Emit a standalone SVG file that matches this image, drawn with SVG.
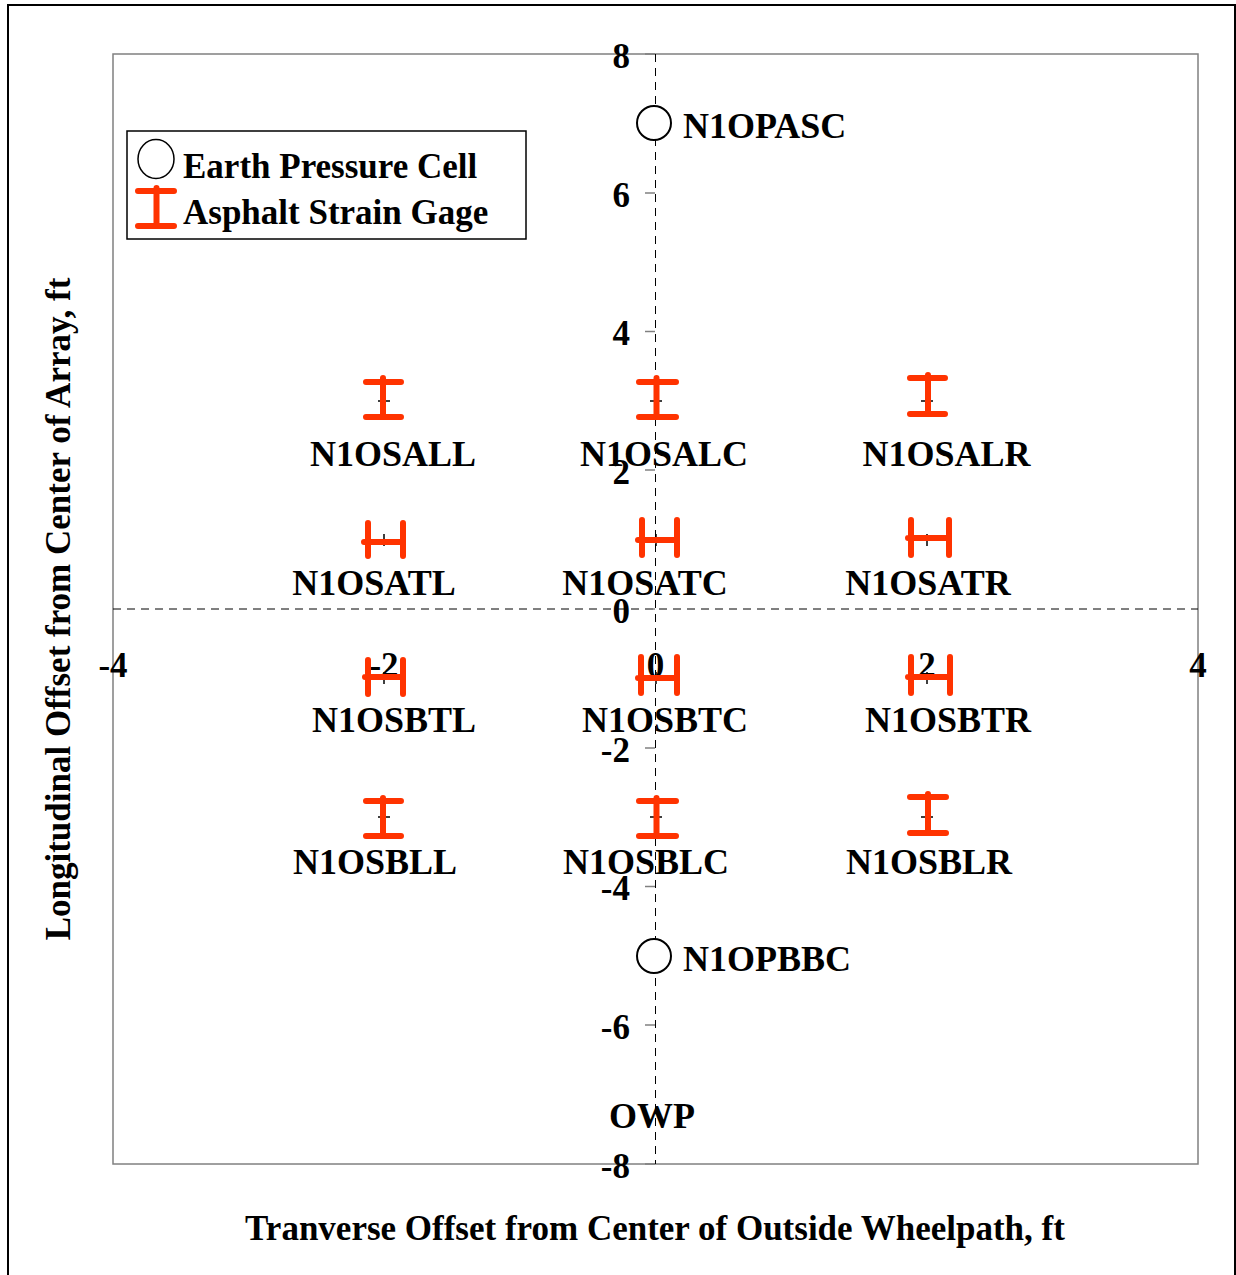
<svg xmlns="http://www.w3.org/2000/svg" width="1236" height="1275" viewBox="0 0 1236 1275">
<style>
text{font-family:"Liberation Serif","Times New Roman",serif;font-weight:bold;font-size:35px;fill:#000}
.lbl{text-anchor:middle}
.nl{font-size:36px}
.ytk{text-anchor:end}
.xtk{text-anchor:middle}
.gage{stroke:#ff3300;stroke-width:6;stroke-linecap:round;fill:none}
.cell{fill:#fff;stroke:#000;stroke-width:2}
.mk{stroke:#000;stroke-width:1.5}
.tick{stroke:#808080;stroke-width:1.5}
.dash{stroke:#000;stroke-width:1;stroke-dasharray:8,6;fill:none}
</style>
<rect x="0" y="0" width="1236" height="1275" fill="#fff"/>
<rect x="8" y="5" width="1227" height="1280" fill="none" stroke="#000" stroke-width="2"/>
<rect x="113" y="54" width="1085" height="1110" fill="none" stroke="#808080" stroke-width="1.5"/>
<g id="axes">
<line class="dash" x1="655.5" y1="54" x2="655.5" y2="1164"/>
<line class="dash" x1="113" y1="609" x2="1198" y2="609"/>
<g class="tick">
<line x1="645" y1="54" x2="655" y2="54"/>
<line x1="645" y1="193" x2="655" y2="193"/>
<line x1="645" y1="331.5" x2="655" y2="331.5"/>
<line x1="645" y1="470" x2="655" y2="470"/>
<line x1="645" y1="609" x2="655" y2="609"/>
<line x1="645" y1="748" x2="655" y2="748"/>
<line x1="645" y1="886.5" x2="655" y2="886.5"/>
<line x1="645" y1="1025" x2="655" y2="1025"/>
<line x1="645" y1="1164" x2="655" y2="1164"/>
</g>
<text class="ytk" x="630" y="68">8</text>
<text class="ytk" x="630" y="207">6</text>
<text class="ytk" x="630" y="345">4</text>
<text class="ytk" x="630" y="484">2</text>
<text class="ytk" x="630" y="623">0</text>
<text class="ytk" x="630" y="762">-2</text>
<text class="ytk" x="630" y="900">-4</text>
<text class="ytk" x="630" y="1039">-6</text>
<text class="ytk" x="630" y="1178">-8</text>
<text class="xtk" x="113" y="677">-4</text>
<text class="xtk" x="384" y="677">-2</text>
<text class="xtk" x="655.5" y="677">0</text>
<text class="xtk" x="927" y="677">2</text>
<text class="xtk" x="1198" y="677">4</text>
<text x="655" y="1240" class="lbl">Tranverse Offset from Center of Outside Wheelpath, ft</text>
<text transform="translate(70,609) rotate(-90)" class="lbl">Longitudinal Offset from Center of Array, ft</text>
</g>
<g id="legend">
<rect x="127" y="131" width="399" height="108" fill="#fff" stroke="#000" stroke-width="1.5"/>
<ellipse cx="156" cy="159" rx="18" ry="19.5" fill="none" stroke="#000" stroke-width="1.5"/>
<path class="gage" d="M138 191H174M138 226H174M156.5 188V226"/>
<text x="183" y="178">Earth Pressure Cell</text>
<text x="183" y="224">Asphalt Strain Gage</text>
</g>
<g id="markers" class="mk">
<path d="M378 401H390M384 395V407"/>
<path d="M650 401H662M656 395V407"/>
<path d="M921 401H933M927 395V407"/>
<path d="M378 540H390M384 534V546"/>
<path d="M650 540H662M656 534V546"/>
<path d="M921 540H933M927 534V546"/>
<path d="M378 678H390M384 672V684"/>
<path d="M650 678H662M656 672V684"/>
<path d="M921 678H933M927 672V684"/>
<path d="M378 817H390M384 811V823"/>
<path d="M650 817H662M656 811V823"/>
<path d="M921 817H933M927 811V823"/>
</g>
<g id="N1OPASC">
<circle class="cell" cx="654" cy="123" r="17"/>
<text class="nl" x="683" y="138">N1OPASC</text>
</g>
<g id="N1OPBBC">
<circle class="cell" cx="654" cy="956" r="17"/>
<text class="nl" x="683" y="971">N1OPBBC</text>
</g>
<g id="N1OSALL">
<path class="gage" d="M366 382H401M366 417H401M383 378V417"/>
<text class="lbl nl" x="393" y="466">N1OSALL</text>
</g>
<g id="N1OSALC">
<path class="gage" d="M639 382H676M639 417H676M656.5 378V417"/>
<text class="lbl nl" x="664" y="466">N1OSALC</text>
</g>
<g id="N1OSALR">
<path class="gage" d="M910 378H945M910 414H945M928 375V414"/>
<text class="lbl nl" x="946.5" y="466">N1OSALR</text>
</g>
<g id="N1OSATL">
<path class="gage" d="M368 523V556M403 523V556M364 542H403"/>
<text class="lbl nl" x="374" y="595">N1OSATL</text>
</g>
<g id="N1OSATC">
<path class="gage" d="M642 520V555M677 520V555M638 540H677"/>
<text class="lbl nl" x="645" y="595">N1OSATC</text>
</g>
<g id="N1OSATR">
<path class="gage" d="M911 520V555M949 520V555M908 538H949"/>
<text class="lbl nl" x="928" y="595">N1OSATR</text>
</g>
<g id="N1OSBTL">
<path class="gage" d="M368 660V694M403 660V694M365 677H403"/>
<text class="lbl nl" x="394" y="732">N1OSBTL</text>
</g>
<g id="N1OSBTC">
<path class="gage" d="M641 657V693M677 657V693M638 678H677"/>
<text class="lbl nl" x="665" y="732">N1OSBTC</text>
</g>
<g id="N1OSBTR">
<path class="gage" d="M911 657V693M950 657V693M908 677H950"/>
<text class="lbl nl" x="948" y="732">N1OSBTR</text>
</g>
<g id="N1OSBLL">
<path class="gage" d="M366 801H401M366 836H401M383 798V836"/>
<text class="lbl nl" x="375" y="874">N1OSBLL</text>
</g>
<g id="N1OSBLC">
<path class="gage" d="M639 801H676M639 836H676M656.5 798V836"/>
<text class="lbl nl" x="646" y="874">N1OSBLC</text>
</g>
<g id="N1OSBLR">
<path class="gage" d="M910 797H946M910 833H946M928 794V833"/>
<text class="lbl nl" x="929" y="874">N1OSBLR</text>
</g>
<g id="OWP">
<text class="lbl nl" x="652" y="1128">OWP</text>
</g>
<g id="connectors"></g>
</svg>
